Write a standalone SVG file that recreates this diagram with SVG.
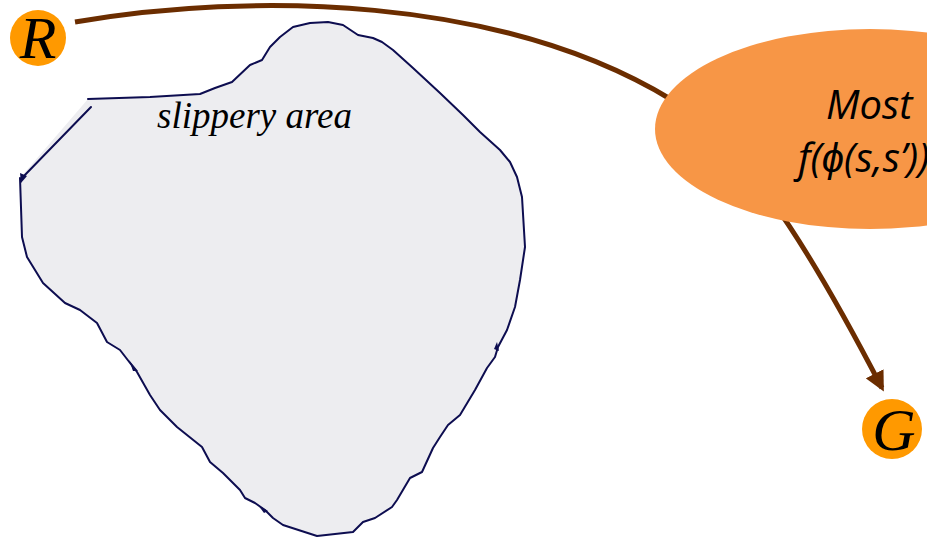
<svg xmlns="http://www.w3.org/2000/svg" width="927" height="539" viewBox="0 0 927 539">
<style>
.blobfill{fill:#EDEDF0;stroke:none}
.blobline{fill:none;stroke:#0D0D50;stroke-width:2;stroke-linejoin:round;stroke-linecap:round}
.tick{fill:#0D0D50}
.conn{fill:none;stroke:#6B2D00;stroke-width:5}
.node{fill:#FF9900}
.letter{font-family:"Liberation Serif",serif;font-style:italic;font-size:60px;fill:#000}
.etext{font-family:"Open Sans","Liberation Sans",sans-serif;font-style:italic;font-size:40px;fill:#000}
</style>
<defs>
<marker id="ah" viewBox="0 0 10 10" refX="8" refY="5" markerWidth="4" markerHeight="4" markerUnits="strokeWidth" orient="auto">
<path d="M0,0 L10,5 L0,10 z" fill="#6B2D00"/>
</marker>
</defs>
<g id="slippery-area">
<polygon class="blobfill" points="88,99 150,97 200,94 215,88 232,82 250,65 262,60 270,47 280,37 293,27 310,23 328,22 343,25 358,35 373,38 382,42 393,50 413,68 440,93 463,115 480,132 500,150 510,162 517,177 522,197 525,247 520,280 515,307 507,330 498,347 495,357 487,368 475,390 460,415 448,425 440,437 433,448 422,472 410,478 397,500 392,507 375,518 363,522 353,532 317,536 283,525 273,518 265,510 255,503 245,498 240,490 223,473 210,462 202,447 177,427 160,410 150,395 137,372 120,350 107,342 97,323 80,310 65,303 43,283 27,257 22,237 20,178"/>
<polyline class="blobline" points="88,99 150,97 200,94 215,88 232,82 250,65 262,60 270,47 280,37 293,27 310,23 328,22 343,25 358,35 373,38 382,42 393,50 413,68 440,93 463,115 480,132 500,150 510,162 517,177 522,197 525,247 520,280 515,307 507,330 498,347 495,357 487,368 475,390 460,415 448,425 440,437 433,448 422,472 410,478 397,500 392,507 375,518 363,522 353,532 317,536 283,525 273,518 265,510 255,503 245,498 240,490 223,473 210,462 202,447 177,427 160,410 150,395 137,372 120,350 107,342 97,323 80,310 65,303 43,283 27,257 22,237 20,178"/>
<polyline class="blobline" points="91,107 21,179"/>
<path class="tick" d="M20,173 L21,183 L27,176 z"/>
<path class="tick" d="M129,360 L138,371 L133,371 z"/>
<path class="tick" d="M497,342 L499,351 L494,349 z"/>
<path class="tick" d="M258,505 L268,511 L264,513 z"/>
<text x="157" y="128" font-family="Liberation Serif, serif" font-style="italic" font-size="37" fill="#000">slippery area</text>
</g>
<g id="connectors">
<path class="conn" d="M75,22 C250,-8 500,-5 672,100 C740,142 800,230 882,388" marker-end="url(#ah)"/>
</g>
<g id="policy">
<ellipse cx="870" cy="129" rx="215" ry="100" fill="#F79646"/>
<text class="etext" x="826" y="119">Most</text>
<text class="etext" x="798" y="172">f(ϕ(s,s’))</text>
</g>
<g id="R">
<circle class="node" cx="38" cy="38" r="28"/>
<text class="letter" x="38" y="58" text-anchor="middle">R</text>
</g>
<g id="G">
<circle class="node" cx="892" cy="429" r="30"/>
<text class="letter" x="894" y="450" text-anchor="middle">G</text>
</g>
</svg>
